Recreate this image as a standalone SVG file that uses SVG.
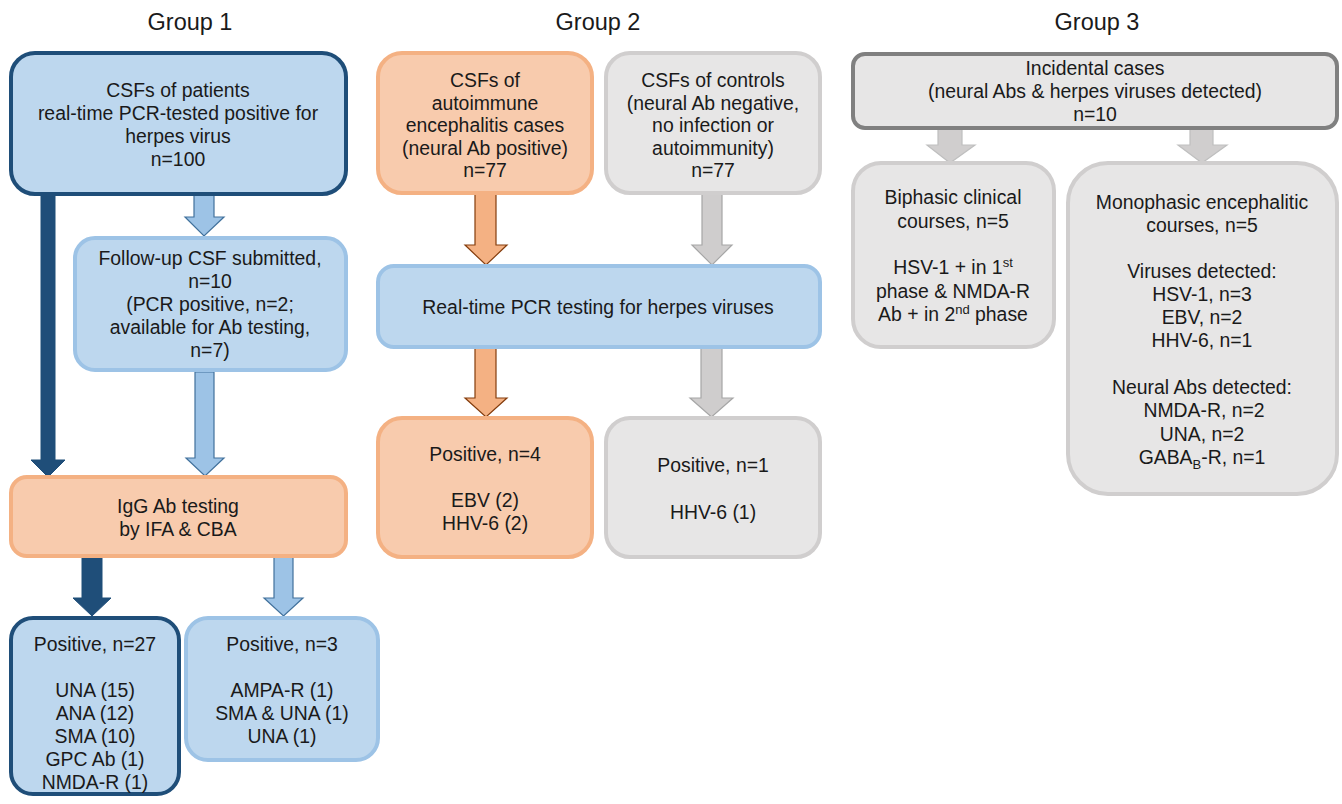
<svg xmlns="http://www.w3.org/2000/svg" width="1342" height="804" viewBox="0 0 1342 804">
<style>
text{font-family:"Liberation Sans",Arial,sans-serif;font-size:19.4px;fill:#1a1a1a;text-anchor:middle}
.title{font-size:23.5px}
.sup{font-size:13px}
.b-dark{fill:#bdd7ee;stroke:#1f4e79;stroke-width:4}
.b-light{fill:#bdd7ee;stroke:#9dc3e6;stroke-width:4}
.b-or{fill:#f8cbad;stroke:#f4b183;stroke-width:4}
.b-gr{fill:#e7e6e6;stroke:#d0cece;stroke-width:4}
.b-grd{fill:#e7e6e6;stroke:#808080;stroke-width:4}
.a-dark{fill:#1f4e79;stroke:#1f4e79;stroke-width:1}
.a-light{fill:#9dc3e6;stroke:#41719c;stroke-width:1.2}
.a-or{fill:#f4b183;stroke:#843c0c;stroke-width:1.2}
.a-gr{fill:#cfcdcd;stroke:#a6a6a6;stroke-width:1.2}
.a-gr3{fill:#d0cece;stroke:#bfbfbf;stroke-width:1.2}
</style>
<rect width="1342" height="804" fill="#ffffff"/>
<g id="titles">
<text class="title" x="190" y="30">Group 1</text>
<text class="title" x="598" y="30">Group 2</text>
<text class="title" x="1097" y="30">Group 3</text>
</g>
<g id="connectors">
<polygon class="a-dark" points="41,195 55,195 55,460 65,460 48,477 31,460 41,460"/>
<polygon class="a-light" points="194,195 214,195 214,217 224,217 204,236 185,217 194,217"/>
<polygon class="a-light" points="195,372 214,372 214,458 224,458 205,476 186,458 195,458"/>
<polygon class="a-dark" points="82,557 102,557 102,598 111,598 92,616 73,598 82,598"/>
<polygon class="a-light" points="274,557 293,557 293,598 303,598 283.5,616 264,598 274,598"/>
<polygon class="a-or" points="475,194 496,194 496,245 507,245 486,265 465,245 475,245"/>
<polygon class="a-gr" points="702,194 722,194 722,245 732,245 712,265 692,245 702,245"/>
<polygon class="a-or" points="475,348 496,348 496,398 507,398 486,417 465,398 475,398"/>
<polygon class="a-gr" points="701,348 722,348 722,398 733,398 711.5,417 690,398 701,398"/>
<polygon class="a-gr3" points="938,129 962,129 962,145 975,145 950,163 927,145 938,145"/>
<polygon class="a-gr3" points="1190,129 1213,129 1213,145 1227,145 1202,163 1178,145 1190,145"/>
</g>
<g id="g1-top">
<rect class="b-dark" x="11" y="53" width="335" height="141" rx="24"/>
<text x="178" y="97">CSFs of patients</text>
<text x="178" y="120">real-time PCR-tested positive for</text>
<text x="178" y="143">herpes virus</text>
<text x="178" y="166">n=100</text>
</g>
<g id="g1-followup">
<rect class="b-light" x="75" y="238" width="271" height="132" rx="20"/>
<text x="210" y="265">Follow-up CSF submitted,</text>
<text x="210" y="288">n=10</text>
<text x="210" y="311">(PCR positive, n=2;</text>
<text x="210" y="334">available for Ab testing,</text>
<text x="210" y="357">n=7)</text>
</g>
<g id="g1-igg">
<rect class="b-or" x="11" y="477" width="335" height="79" rx="16"/>
<text x="178" y="513">IgG Ab testing</text>
<text x="178" y="536">by IFA &amp; CBA</text>
</g>
<g id="g1-pos27">
<rect class="b-dark" x="11" y="618" width="168" height="176" rx="22"/>
<text x="95" y="651">Positive, n=27</text>
<text x="95" y="697">UNA (15)</text>
<text x="95" y="720">ANA (12)</text>
<text x="95" y="743">SMA (10)</text>
<text x="95" y="766">GPC Ab (1)</text>
<text x="95" y="789">NMDA-R (1)</text>
</g>
<g id="g1-pos3">
<rect class="b-light" x="186" y="618" width="192" height="142" rx="22"/>
<text x="282" y="651">Positive, n=3</text>
<text x="282" y="697">AMPA-R (1)</text>
<text x="282" y="720">SMA &amp; UNA (1)</text>
<text x="282" y="743">UNA (1)</text>
</g>
<g id="g2-ae">
<rect class="b-or" x="378" y="53" width="214" height="140" rx="24"/>
<text x="485" y="87">CSFs of</text>
<text x="485" y="109.5">autoimmune</text>
<text x="485" y="132">encephalitis cases</text>
<text x="485" y="154.5">(neural Ab positive)</text>
<text x="485" y="177">n=77</text>
</g>
<g id="g2-ctrl">
<rect class="b-gr" x="606" y="53" width="214" height="140" rx="24"/>
<text x="713" y="87">CSFs of controls</text>
<text x="713" y="109.5">(neural Ab negative,</text>
<text x="713" y="132">no infection or</text>
<text x="713" y="154.5">autoimmunity)</text>
<text x="713" y="177">n=77</text>
</g>
<g id="g2-pcr">
<rect class="b-light" x="378" y="266" width="442" height="81" rx="16"/>
<text x="598" y="314">Real-time PCR testing for herpes viruses</text>
</g>
<g id="g2-pos4">
<rect class="b-or" x="378" y="418" width="214" height="139" rx="24"/>
<text x="485" y="461">Positive, n=4</text>
<text x="485" y="507">EBV (2)</text>
<text x="485" y="530">HHV-6 (2)</text>
</g>
<g id="g2-pos1">
<rect class="b-gr" x="606" y="418" width="214" height="139" rx="24"/>
<text x="713" y="472">Positive, n=1</text>
<text x="713" y="519">HHV-6 (1)</text>
</g>
<g id="g3-incidental">
<rect class="b-grd" x="853" y="54" width="484" height="74" rx="12"/>
<text x="1095" y="75">Incidental cases</text>
<text x="1095" y="98">(neural Abs &amp; herpes viruses detected)</text>
<text x="1095" y="121">n=10</text>
</g>
<g id="g3-biphasic">
<rect class="b-gr" x="853" y="163" width="201" height="184" rx="28"/>
<text x="953" y="204">Biphasic clinical</text>
<text x="953" y="228">courses, n=5</text>
<text x="953" y="274">HSV-1 + in 1<tspan class="sup" dy="-7">st</tspan></text>
<text x="953" y="298">phase &amp; NMDA-R</text>
<text x="953" y="321">Ab + in 2<tspan class="sup" dy="-7">nd</tspan><tspan dy="7"> phase</tspan></text>
</g>
<g id="g3-monophasic">
<rect class="b-gr" x="1068" y="163" width="269" height="331" rx="40"/>
<text x="1202" y="209">Monophasic encephalitic</text>
<text x="1202" y="232">courses, n=5</text>
<text x="1202" y="278">Viruses detected:</text>
<text x="1202" y="301">HSV-1, n=3</text>
<text x="1202" y="324">EBV, n=2</text>
<text x="1202" y="347">HHV-6, n=1</text>
<text x="1202" y="394">Neural Abs detected:</text>
<text x="1204" y="417">NMDA-R, n=2</text>
<text x="1202" y="441">UNA, n=2</text>
<text x="1202" y="464">GABA<tspan class="sup" dy="5">B</tspan><tspan dy="-5">-R, n=1</tspan></text>
</g>
</svg>
